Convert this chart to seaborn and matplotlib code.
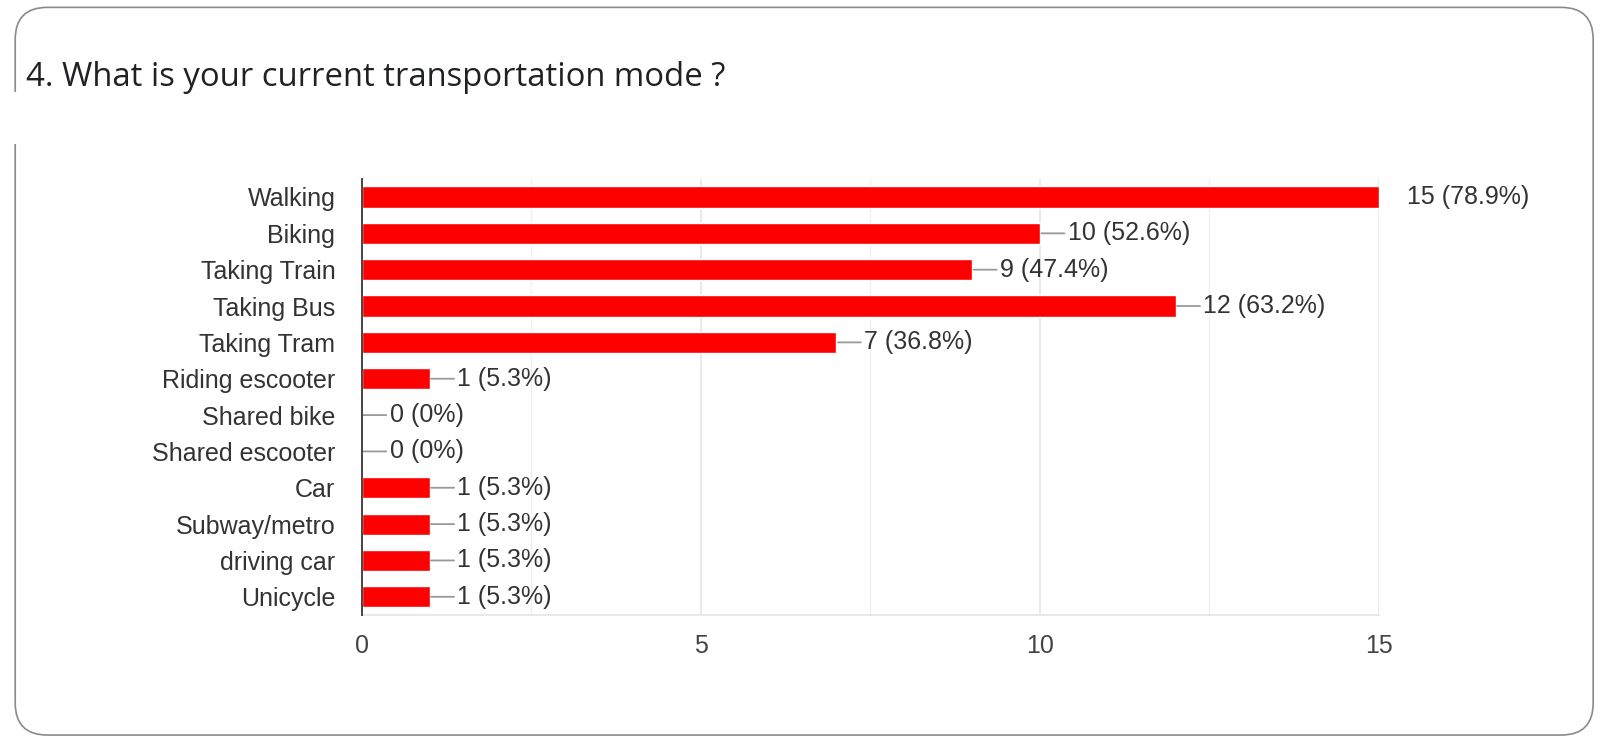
import matplotlib
matplotlib.use("Agg")
import matplotlib.pyplot as plt
import seaborn as sns
import pandas as pd
from matplotlib.patches import FancyBboxPatch, Rectangle

categories = ["Walking", "Biking", "Taking Train", "Taking Bus", "Taking Tram",
              "Riding escooter", "Shared bike", "Shared escooter", "Car",
              "Subway/metro", "driving car", "Unicycle"]
counts = [15, 10, 9, 12, 7, 1, 0, 0, 1, 1, 1, 1]
percent_labels = ["78.9%", "52.6%", "47.4%", "63.2%", "36.8%", "5.3%",
                  "0%", "0%", "5.3%", "5.3%", "5.3%", "5.3%"]
x_ticks = [0, 5, 10, 15]
title = "4. What is your current transportation mode ?"

df = pd.DataFrame({"mode": categories, "count": counts})

sns.set_theme(style="white")
plt.rcParams["font.family"] = ["Liberation Sans", "DejaVu Sans"]

fig = plt.figure(figsize=(16.02, 7.38), dpi=100)
ax = fig.add_axes([0.2258, 0.1667, 0.635, 0.591])

sns.barplot(data=df, y="mode", x="count", color="#ff0000", orient="h",
            width=0.58, ax=ax, saturation=1)

ax.set_xlim(0, 15)
ax.set_ylim(len(categories) - 0.5, -0.5)
ax.set_xticks(x_ticks)
ax.set_xticks([2.5, 7.5, 12.5], minor=True)
ax.grid(axis="x", which="major", color="#e6e6e6", linewidth=1.2)
ax.grid(axis="x", which="minor", color="#f0f0f0", linewidth=1.0)
ax.set_axisbelow(True)
for s in ["top", "right"]:
    ax.spines[s].set_visible(False)
ax.spines["bottom"].set_color("#e6e6e6")
ax.spines["left"].set_color("#444444")
ax.spines["left"].set_linewidth(1.4)
ax.spines["left"].set_zorder(5)
ax.set_xlabel("")
ax.set_ylabel("")
ax.tick_params(axis="y", labelsize=18, colors="#333333", length=0, pad=19)
ax.tick_params(axis="x", labelsize=18, colors="#444444", length=0, pad=14)

vmax = max(counts)
for i, (c, p) in enumerate(zip(counts, percent_labels)):
    lab = f"{c} ({p})"
    if c == vmax:
        ax.annotate(lab, xy=(c, i), xytext=(20, 0), textcoords="offset points",
                    va="center", ha="left", fontsize=18, color="#333333")
    else:
        ax.annotate(lab, xy=(c, i), xytext=(20, 0), textcoords="offset points",
                    va="center", ha="left", fontsize=18, color="#333333",
                    arrowprops=dict(arrowstyle="-", color="#999999", lw=1.3,
                                    shrinkA=0, shrinkB=1))

fig.text(0.016, 0.884, title, fontsize=23.7, color="#202124", va="baseline",
         ha="left", family=["Open Sans", "DejaVu Sans"])

# card border
card = FancyBboxPatch((0.0095, 0.004), 0.985, 0.986,
                      boxstyle="round,pad=0,rounding_size=0.02",
                      transform=fig.transFigure, fill=False,
                      edgecolor="#8a8a8a", linewidth=1.2,
                      mutation_aspect=1602 / 738)
fig.patches.append(card)
gap = Rectangle((0.005, 0.805), 0.01, 0.07, transform=fig.transFigure,
                facecolor="white", edgecolor="none")
fig.patches.append(gap)

fig.savefig("out.png", dpi=100)
